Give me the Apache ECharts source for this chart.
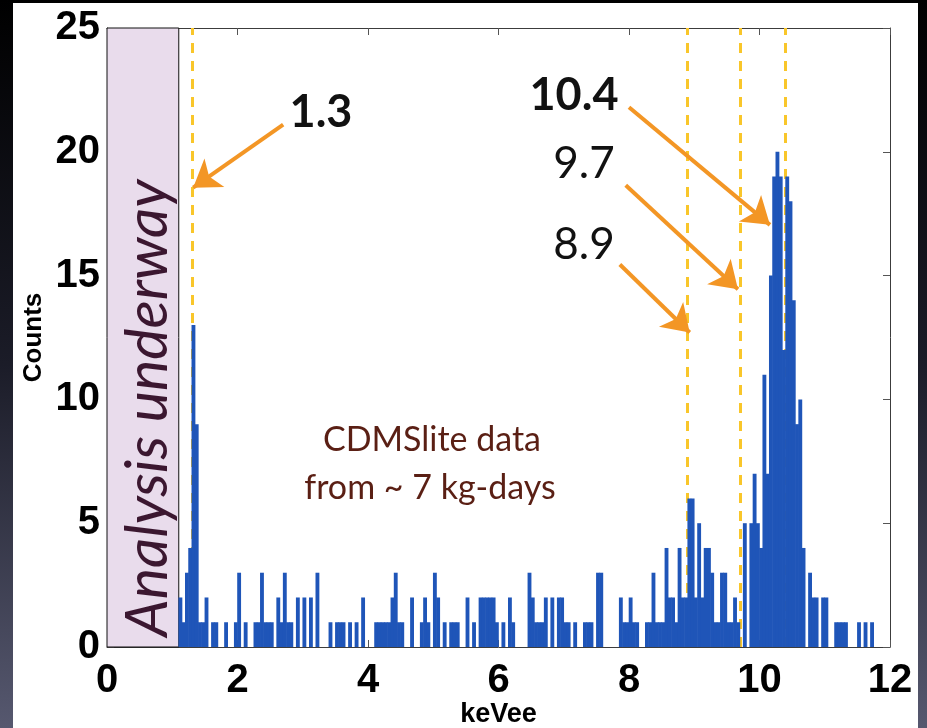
<!DOCTYPE html>
<html>
<head>
<meta charset="utf-8">
<script src="https://cdn.jsdelivr.net/npm/echarts@6/dist/echarts.min.js"></script>
<style>
  html, body { margin: 0; padding: 0; background: #000; }
  #chart { width: 927px; height: 728px; }
</style>
</head>
<body>
<div id="chart"></div>
<script>
// Histogram of CDMSlite events, 0.05 keVee bins starting at 1.10 keVee
const binStart = 1.10;
const binWidth = 0.05;
const counts = [
  2, 1, 3, 4, 13, 9, 1, 1, 2, 0,
  1, 1, 0, 0, 1, 0, 0, 1, 3, 0,
  1, 0, 0, 1, 1, 3, 1, 1, 1, 0,
  2, 1, 3, 1, 1, 0, 2, 0, 2, 0,
  2, 0, 3, 0, 0, 0, 1, 0, 1, 1,
  1, 0, 1, 0, 1, 0, 2, 0, 0, 0,
  1, 1, 1, 1, 1, 2, 3, 1, 1, 0,
  0, 2, 0, 0, 1, 2, 1, 0, 3, 2,
  0, 1, 0, 1, 1, 1, 0, 0, 2, 0,
  1, 0, 2, 2, 2, 2, 2, 1, 0, 1,
  0, 2, 1, 0, 0, 0, 0, 3, 2, 1,
  1, 1, 2, 0, 2, 0, 2, 2, 1, 1,
  0, 1, 0, 0, 1, 1, 1, 0, 3, 3,
  0, 0, 0, 0, 0, 2, 1, 1, 2, 1,
  1, 0, 0, 1, 1, 3, 1, 1, 1, 4,
  2, 2, 1, 4, 2, 2, 6, 6, 2, 5,
  2, 4, 4, 3, 1, 1, 3, 3, 1, 1,
  2, 1, 0, 5, 0, 5, 7, 5, 4, 11,
  7, 15, 19, 20, 19, 12, 19, 18, 14, 9,
  10, 4, 0, 3, 2, 2, 0, 2, 2, 0,
  0, 1, 1, 1, 1, 0, 0, 0, 1, 0,
  1, 0, 1, 0
];

const xRange = [0, 12];
const xStep = 2;
const yRange = [0, 25];
const yStep = 5;

// region below threshold, still being analysed
const analysisCut = 1.1;
const shadedLabel = 'Analysis underway';

// known activation lines (keVee)
const lineEnergies = [1.3, 8.9, 9.7, 10.4];
const lineLabels = ['1.3', '8.9', '9.7', '10.4'];
const noteText = ['CDMSlite data', 'from ~ 7 kg-days'];

const bins = counts.map((c, i) => [
  +(binStart + i * binWidth).toFixed(2),
  +(binStart + (i + 1) * binWidth).toFixed(2),
  c
]);

const axisFont = 'Liberation Sans';
const frameColor = '#3c3c3c';
const tickColor = '#555';

function frameAxis(extra) {
  return Object.assign({
    type: 'value',
    axisLine: { show: true, onZero: false, lineStyle: { color: frameColor, width: 1 } },
    axisTick: { show: true, inside: true, length: 7, lineStyle: { color: tickColor, width: 1 } },
    splitLine: { show: false },
    axisLabel: { show: false }
  }, extra);
}

const labelStyle = {
  show: true, margin: 8, color: '#000',
  fontSize: 40, fontWeight: 'bold', fontFamily: axisFont
};

function centered(x, y, text, font, fill, rotation) {
  return {
    type: 'text', z: 10, x: x, y: y, rotation: rotation || 0, silent: true,
    style: {
      text: text, font: font, fill: fill,
      align: 'center', verticalAlign: 'middle',
      textAlign: 'center', textVerticalAlign: 'middle'
    }
  };
}

const chart = echarts.init(document.getElementById('chart'), null, { renderer: 'canvas' });

const option = {
  animation: false,
  backgroundColor: {
    type: 'linear', x: 0, y: 0, x2: 0, y2: 1,
    colorStops: [
      { offset: 0, color: '#000000' },
      { offset: 0.5, color: '#1b1c28' },
      { offset: 1, color: '#56586f' }
    ]
  },
  grid: { left: 107, right: 37, top: 28, bottom: 81, outerBoundsMode: 'none', containLabel: false },
  xAxis: [
    frameAxis({
      min: xRange[0], max: xRange[1], interval: xStep, position: 'bottom',
      axisLabel: Object.assign({}, labelStyle, { margin: 14 }),
      name: 'keVee', nameLocation: 'middle', nameGap: 54, nameMoveOverlap: false,
      nameTextStyle: { fontSize: 27, fontWeight: 'bold', fontFamily: axisFont, color: '#000' }
    }),
    frameAxis({ min: xRange[0], max: xRange[1], interval: xStep, position: 'top' })
  ],
  yAxis: [
    frameAxis({
      min: yRange[0], max: yRange[1], interval: yStep, position: 'left',
      axisLabel: Object.assign({}, labelStyle, { margin: 7 }),
      name: 'Counts', nameLocation: 'middle', nameGap: 60, nameRotate: 90, nameMoveOverlap: false,
      nameTextStyle: { fontSize: 26, fontWeight: 'bold', fontFamily: axisFont, color: '#000' }
    }),
    frameAxis({ min: yRange[0], max: yRange[1], interval: yStep, position: 'right' })
  ],
  series: [
    {
      // shaded region and dashed line markers, drawn beneath the bars
      type: 'line', data: [], silent: true,
      markArea: {
        silent: true, z: 1,
        itemStyle: { color: '#e9dcec', borderColor: '#111', borderWidth: 1 },
        label: { show: false },
        data: [[{ xAxis: xRange[0] }, { xAxis: analysisCut }]]
      },
      markLine: {
        silent: true, z: 2, symbol: ['none', 'none'],
        label: { show: false },
        lineStyle: { color: '#f9c62a', width: 3, type: [10, 8] },
        data: lineEnergies.map(e => ({ xAxis: e }))
      }
    },
    {
      type: 'custom', z: 3,
      data: bins,
      encode: { x: [0, 1], y: 2 },
      renderItem: function (params, api) {
        const c = api.value(2);
        if (!c) return null;
        const p0 = api.coord([api.value(0), c]);
        const p1 = api.coord([api.value(1), 0]);
        return {
          type: 'rect',
          shape: { x: p0[0] - 0.3, y: p0[1], width: p1[0] - p0[0] + 0.6, height: p1[1] - p0[1] },
          style: { fill: '#1f55b8' }
        };
      }
    },
    {
      // pointer arrows from the labels to their lines
      type: 'line', data: [], silent: true,
      markLine: {
        silent: true, z: 6,
        symbol: ['none', 'arrow'], symbolSize: 26,
        label: { show: false },
        itemStyle: { color: '#f39625' },
        lineStyle: { color: '#f39625', width: 4, type: 'solid' },
        data: [
          [{ coord: [2.70, 21.1] }, { coord: [1.32, 18.55] }],
          [{ coord: [8.00, 21.8] }, { coord: [10.16, 17.05] }],
          [{ coord: [7.95, 18.65] }, { coord: [9.67, 14.45] }],
          [{ coord: [7.86, 15.45] }, { coord: [8.93, 12.7] }]
        ]
      }
    }
  ],
  graphic: [
    { type: 'rect', z: -10, silent: true, shape: { x: 13, y: 3, width: 905, height: 740 }, style: { fill: '#ffffff' } },
    centered(148, 408, shadedLabel, 'italic 59px Lato', '#3b1730', Math.PI / 2),
    centered(321, 112, lineLabels[0], 'bold 45px Lato', '#111'),
    centered(574, 95, lineLabels[3], 'bold 45px Lato', '#111'),
    centered(584, 164, lineLabels[2], '44px Lato', '#111'),
    centered(584, 245, lineLabels[1], '44px Lato', '#111'),
    centered(432, 440, noteText[0], '34px Lato', '#5a1f14'),
    centered(430, 488, noteText[1], '34px Lato', '#5a1f14')
  ]
};

chart.setOption(option);
</script>
</body>
</html>
